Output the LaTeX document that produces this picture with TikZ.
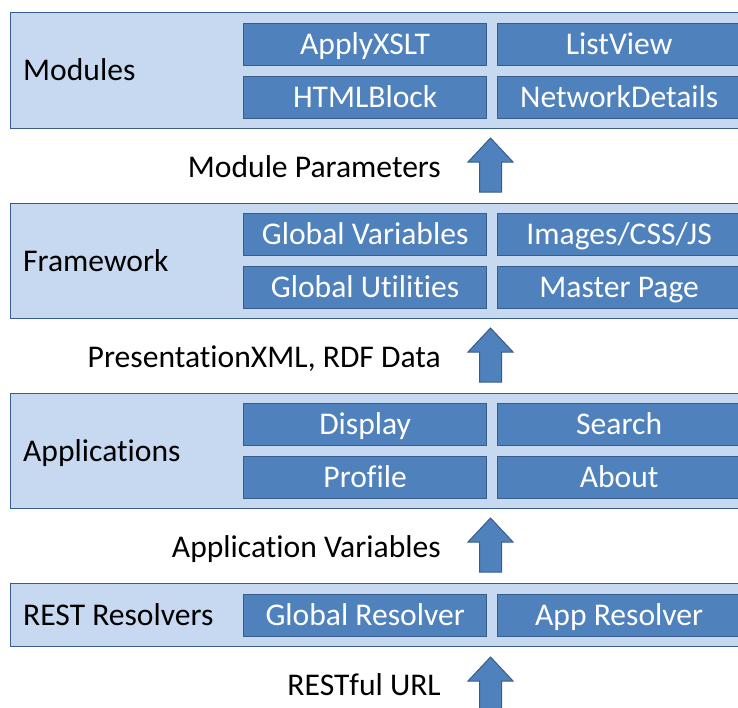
\documentclass[tikz,border=0pt]{standalone}
\usepackage{fontspec}
\setmainfont{Carlito}[Ligatures=NoCommon]
\definecolor{layerfill}{HTML}{C6D9F1}
\definecolor{boxfill}{HTML}{4F81BD}
\definecolor{edge}{HTML}{385D8A}
\tikzset{
  txt/.style={font=\fontsize{31.6}{36}\selectfont},
  layer/.style={draw=edge, line width=1.3pt, fill=layerfill, anchor=north west, inner sep=0pt},
  cell/.style={txt, draw=edge, line width=1.3pt, fill=boxfill, text=white, anchor=north west, inner sep=0pt, minimum height=42pt, text height=20pt, text depth=0pt},
  lbl/.style={txt, anchor=base west, inner sep=0pt},
  flow/.style={txt, anchor=base east, inner sep=0pt},
  arr/.style={draw=edge, line width=1pt, fill=boxfill},
  uparr/.pic={\path[arr] (0,0) -- (22.5,24) -- (11,24) -- (11,54) -- (-11,54) -- (-11,24) -- (-22.5,24) -- cycle;}
}
\begin{document}
\begin{tikzpicture}[x=1pt,y=-1pt]
\clip (0,0) rectangle (738,707);
\fill[white] (0,0) rectangle (738,707);
% Modules
\node[layer, minimum width=760pt, minimum height=116pt] (mod) at (10,12) {};
\node[lbl] (modl) at (23,80.5) {Modules};
\node[cell, minimum width=243pt] (c11) at (243,23) {ApplyXSLT};
\node[cell, minimum width=250pt] (c12) at (497,23) {\hspace*{-7pt}ListView};
\node[cell, minimum width=243pt] (c13) at (243,76) {HTMLBlock};
\node[cell, minimum width=250pt] (c14) at (497,76) {\hspace*{-7pt}NetworkDetails};
% arrow 1
\pic (a1) at (490.5,138) {uparr};
\node[flow] (f1) at (441,177) {Module Parameters};
% Framework
\node[layer, minimum width=760pt, minimum height=115pt] (fw) at (10,203) {};
\node[lbl] (fwl) at (23,271) {Framework};
\node[cell, minimum width=243pt] (c21) at (243,213) {Global Variables};
\node[cell, minimum width=250pt] (c22) at (497,213) {\hspace*{-7pt}Images/CSS/JS};
\node[cell, minimum width=243pt] (c23) at (243,266) {Global Utilities};
\node[cell, minimum width=250pt] (c24) at (497,266) {\hspace*{-7pt}Master Page};
% arrow 2
\pic (a2) at (490.5,328) {uparr};
\node[flow] (f2) at (441,367) {PresentationXML, RDF Data};
% Applications
\node[layer, minimum width=760pt, minimum height=115pt] (app) at (10,393) {};
\node[lbl] (appl) at (23,461) {Applications};
\node[cell, minimum width=243pt] (c31) at (243,403) {Display};
\node[cell, minimum width=250pt] (c32) at (497,403) {\hspace*{-7pt}Search};
\node[cell, minimum width=243pt] (c33) at (243,456) {Profile};
\node[cell, minimum width=250pt] (c34) at (497,456) {\hspace*{-7pt}About};
% arrow 3
\pic (a3) at (490.5,518) {uparr};
\node[flow] (f3) at (441,557) {Application Variables};
% REST Resolvers
\node[layer, minimum width=760pt, minimum height=63pt] (rest) at (10,583) {};
\node[lbl] (restl) at (23,625) {REST Resolvers};
\node[cell, minimum width=243pt] (c41) at (243,594) {Global Resolver};
\node[cell, minimum width=250pt] (c42) at (497,594) {\hspace*{-7pt}App Resolver};
% arrow 4
\pic (a4) at (490.5,657) {uparr};
\node[flow] (f4) at (441,695) {RESTful URL};
\end{tikzpicture}
\end{document}
